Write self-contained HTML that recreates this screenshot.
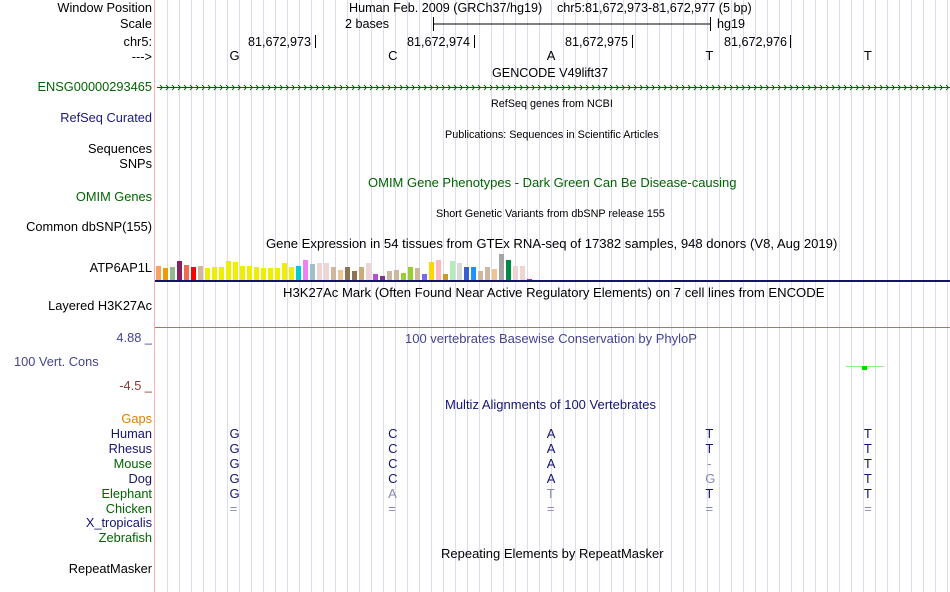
<!DOCTYPE html>
<html><head><meta charset="utf-8"><style>
body{margin:0;width:950px;height:592px;background:#fff;position:relative;overflow:hidden;font-family:"Liberation Sans",Arial,sans-serif;}
.t{position:absolute;white-space:nowrap;font-size:13px;line-height:14px;}
.l{position:absolute;right:798px;white-space:nowrap;font-size:12.8px;line-height:14px;text-align:right;}
.s{font-size:10.8px;}
svg{position:absolute;left:0;top:0;}
</style></head><body>
<svg id="g" width="950" height="592"></svg>

<div class="l" style="top:1px">Window Position</div>
<div class="l" style="top:17px">Scale</div>
<div class="l" style="top:35px">chr5:</div>
<div class="l" style="top:50px">---&gt;</div>
<div class="l" style="top:80px;color:#006400">ENSG00000293465</div>
<div class="l" style="top:111px;color:#1a1a80">RefSeq Curated</div>
<div class="l" style="top:142px">Sequences</div>
<div class="l" style="top:157px">SNPs</div>
<div class="l" style="top:190px;color:#006400">OMIM Genes</div>
<div class="l" style="top:220px">Common dbSNP(155)</div>
<div class="l" style="top:261px">ATP6AP1L</div>
<div class="l" style="top:299px">Layered H3K27Ac</div>
<div class="l" style="top:331px;color:#44448f">4.88 _</div>
<div class="l" style="top:355px;right:auto;left:14px;color:#44448f">100 Vert. Cons</div>
<div class="l" style="top:379px;color:#8b3a3a">-4.5 _</div>
<div class="l" style="top:412px;color:#e08000">Gaps</div>
<div class="l" style="top:427px;color:#141473">Human</div>
<div class="l" style="top:442px;color:#141473">Rhesus</div>
<div class="l" style="top:457px;color:#006400">Mouse</div>
<div class="l" style="top:472px;color:#141473">Dog</div>
<div class="l" style="top:487px;color:#006400">Elephant</div>
<div class="l" style="top:502px;color:#006400">Chicken</div>
<div class="l" style="top:516px;color:#141473">X_tropicalis</div>
<div class="l" style="top:531px;color:#006400">Zebrafish</div>
<div class="l" style="top:562px">RepeatMasker</div>

<div class="t" style="left:349px;top:1px;font-size:12.6px">Human Feb. 2009 (GRCh37/hg19)</div>
<div class="t" style="left:557px;top:1px;font-size:12.6px">chr5:81,672,973-81,672,977 (5 bp)</div>
<div class="t" style="left:345px;top:17px;font-size:12.6px">2 bases</div>
<div class="t" style="left:717px;top:17px;font-size:12.6px">hg19</div>
<div class="t" style="left:248px;top:35px;font-size:12.6px">81,672,973</div>
<div class="t" style="left:407px;top:35px;font-size:12.6px">81,672,974</div>
<div class="t" style="left:565px;top:35px;font-size:12.6px">81,672,975</div>
<div class="t" style="left:724px;top:35px;font-size:12.6px">81,672,976</div>
<div class="t" style="left:492px;top:66px;font-size:12.6px">GENCODE V49lift37</div>
<div class="t s" style="left:491px;top:97px">RefSeq genes from NCBI</div>
<div class="t s" style="left:445px;top:128px">Publications: Sequences in Scientific Articles</div>
<div class="t" style="left:368px;top:176px;color:#006400">OMIM Gene Phenotypes - Dark Green Can Be Disease-causing</div>
<div class="t s" style="left:436px;top:207px">Short Genetic Variants from dbSNP release 155</div>
<div class="t" style="left:266px;top:237px;font-size:13.1px">Gene Expression in 54 tissues from GTEx RNA-seq of 17382 samples, 948 donors (V8, Aug 2019)</div>
<div class="t" style="left:283px;top:286px;font-size:13.1px">H3K27Ac Mark (Often Found Near Active Regulatory Elements) on 7 cell lines from ENCODE</div>
<div class="t" style="left:405px;top:332px;color:#44448f">100 vertebrates Basewise Conservation by PhyloP</div>
<div class="t" style="left:445px;top:398px;color:#141473">Multiz Alignments of 100 Vertebrates</div>
<div class="t" style="left:441px;top:547px">Repeating Elements by RepeatMasker</div>
<div id="seq"></div>

<script>
const tissueValues=[14,12,13,19,15,13,14,12,13,13,19,18,14,14,13,12,12,12,17,13,14,20,16,17,17,13,10,13,9,13,17,6,4,9,10,7,13,12,6,18,20,6,19,17,13,13,9,13,11,26,20,14,14,1];
const tissueColors=["#f4a460","#ee9a00","#8fbc8f","#8b1c62","#ee6a50","#ff0000","#cdb79e","#eeee00","#eeee00","#eeee00","#eeee00","#eeee00","#eeee00","#eeee00","#eeee00","#eeee00","#eeee00","#eeee00","#eeee00","#eeee00","#00cdcd","#ee82ee","#9ac0cd","#eed5d2","#eed5d2","#cdb79e","#eec591","#8b7355","#8b7355","#cdaa7d","#eed5d2","#b452cd","#7a378b","#cdb79e","#cdb79e","#9acd32","#9acd32","#cdb79e","#7b68ee","#ffd700","#ffb6c1","#cd9b1d","#b4eeb4","#d9d9d9","#3a5fcd","#1e90ff","#cdb79e","#cdb79e","#eec591","#a6a6a6","#008b45","#eed5d2","#eed5d2","#ee00ee"];
const bases=["G","C","A","T","T"];
const species=["Human","Rhesus","Mouse","Dog","Elephant","Chicken"];
const aln=[["G","C","A","T","T"],["G","C","A","T","T"],["G","C","A","-","T"],["G","C","A","G","T"],["G","A","T","T","T"],["=","=","=","=","="]];
const alnGray=[[0,0,0,0,0],[0,0,0,0,0],[0,0,0,1,0],[0,0,0,1,0],[0,1,1,0,0],[1,1,1,1,1]];

const NS="http://www.w3.org/2000/svg";
const g=document.getElementById('g');
function mk(t,a){const e=document.createElementNS(NS,t);for(const k in a)e.setAttribute(k,a[k]);g.appendChild(e);return e;}
for(let x=167;x<950;x+=12){const e=mk('line',{x1:x+.5,y1:0,x2:x+.5,y2:592,stroke:'#dcdcf8','stroke-width':1});

}
let e=mk('line',{x1:154.5,y1:0,x2:154.5,y2:592,stroke:'#ffb0b0'});


e=mk('path',{d:'M433.5,17V31M433.5,24H710.5M710.5,17V31',stroke:'#000',fill:'none'});


[315,474,632,790].forEach(x=>{const t=mk('line',{x1:x+.5,y1:35,x2:x+.5,y2:48,stroke:'#000'});

});
let d='M157,87.5H950';for(let x=160;x<950;x+=6)d+=`M${x},85L${x+2.5},87.5L${x},90`;
e=mk('path',{d:d,stroke:'#006400',fill:'none','stroke-width':0.9});


const base=280,x0=156,pitch=7;
tissueValues.forEach((v,i)=>{const b=mk('rect',{x:x0+i*pitch,y:base-v,width:5,height:v,fill:tissueColors[i]});

});
e=mk('rect',{x:155,y:280,width:795,height:2,fill:'#141466'});


e=mk('line',{x1:155,y1:327.5,x2:950,y2:327.5,stroke:'#d06070'});


e=mk('line',{x1:846,y1:366.5,x2:884,y2:366.5,stroke:'#90ee90'});


e=mk('rect',{x:862,y:366,width:5,height:4,fill:'#00e000'});


const seq=document.getElementById('seq');
const cx=i=>233.5+i*158.6;
function txt(s,x,y,c,name){const d=document.createElement('div');d.className='t';d.style.left=(x-4)+'px';d.style.top=y+'px';d.style.width='8px';d.style.textAlign='center';d.style.color=c;d.textContent=s;


seq.appendChild(d);}
bases.forEach((b,i)=>txt(b,cx(i),49,'#000','ref-base'));
aln.forEach((row,r)=>row.forEach((b,i)=>txt(b,cx(i),427+r*15,alnGray[r][i]?'#8888b8':'#141473','alignment-base')));
</script>
</body></html>
